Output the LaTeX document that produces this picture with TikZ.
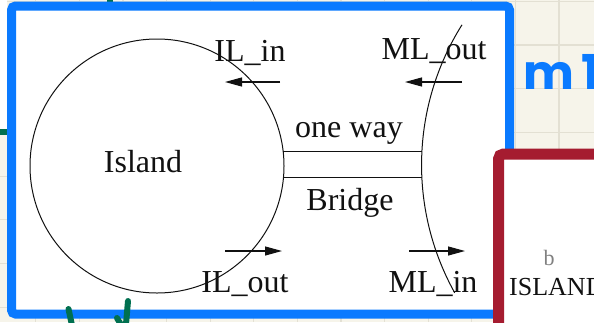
\documentclass[tikz,border=0pt]{standalone}
\usepackage{fontspec}
\setmainfont{Liberation Serif}
\newfontfamily\mfont[LetterSpace=15]{Poppins}
\usetikzlibrary{arrows.meta}
\definecolor{cream}{HTML}{F6F4EA}
\definecolor{gridc}{HTML}{E3E0D3}
\definecolor{blueb}{HTML}{0A7AFF}
\definecolor{redb}{HTML}{A51C30}
\definecolor{greenm}{HTML}{007050}
\definecolor{ink}{HTML}{111111}
\begin{document}
\begin{tikzpicture}[x=1pt,y=-1pt,
  lbl/.style={font=\fontsize{32}{32}\selectfont, text=ink, inner sep=0pt, anchor=base},
  smalllbl/.style={font=\fontsize{22}{22}\selectfont, inner sep=0pt, anchor=base},
  outline/.style={draw=ink, line width=1pt},
  flow/.style={draw=ink, line width=1.1pt, -{Triangle[length=17pt,width=9pt]}},
  greenstroke/.style={draw=greenm, line width=6pt, line cap=round},
  gridline/.style={draw=gridc, line width=1.2pt}]
\clip (0,0) rectangle (594,322);
\useasboundingbox (0,0) rectangle (594,322);
% background
\fill[cream] (0,0) rectangle (594,322);
\foreach \i in {-2,...,11} \draw[gridline] ({123+43.6*\i},0) -- ++(0,322);
\foreach \j in {0,...,7} \draw[gridline] (0,{1.3+43.7*\j}) -- ++(594,0);
\fill[white] (0,0) rectangle (7,130);
\draw[greenstroke, line cap=butt] (0,132) -- (8,132);
\draw[greenstroke, line cap=butt] (109.5,-2) -- (109.5,4);
% blue frame
\draw[blueb, line width=9pt, fill=white, rounded corners=4pt] (11.5,6) rectangle (509.5,314);
% island
\node[circle, outline, minimum size=254pt, inner sep=0pt, outer sep=0pt] (island) at (157,166) {};
\node[lbl] (islandtxt) at (143,172.5) {Island};
% mainland shore
\coordinate (shoretop) at (462,24.8);
\draw[outline] (shoretop) arc[start angle=212.2, end angle=150.9, radius=263];
\coordinate (shoreA) at (422,151);
\coordinate (shoreB) at (422,177);
\coordinate (islandA) at (283.1,151);
\coordinate (islandB) at (283.5,177);
% bridge
\draw[outline] (islandA) -- (shoreA);
\draw[outline] (islandB) -- (shoreB);
\node[lbl] (oneway) at (349,137) {one way};
\node[lbl] (bridge) at (350,210) {Bridge};
% labels
\node[lbl] (ilin) at (250,61) {IL\_in};
\node[lbl] (mlout) at (434,59) {ML\_out};
\node[lbl] (ilout) at (245,292) {IL\_out};
\node[lbl] (mlin) at (433,292) {ML\_in};
% arrows
\coordinate (a1s) at (280,82); \coordinate (a1e) at (225,82);
\coordinate (a2s) at (462,82); \coordinate (a2e) at (405,82);
\coordinate (a3s) at (225,251); \coordinate (a3e) at (282,251);
\coordinate (a4s) at (409,251); \coordinate (a4e) at (465,251);
\draw[flow] (a1s) -- (a1e);
\draw[flow] (a2s) -- (a2e);
\draw[flow] (a3s) -- (a3e);
\draw[flow] (a4s) -- (a4e);
% red box
\draw[redb, line width=11pt, fill=white, rounded corners=5pt] (498.5,154) rectangle (660,380);
\node[smalllbl, text=gray] (btxt) at (549,265) {b};
\node[smalllbl, font=\fontsize{26}{26}\selectfont, text=ink, anchor=base west] (islandcap) at (509,295) {ISLAND};
% m1
\node[font=\mfont\bfseries\fontsize{48}{48}\selectfont, text=blueb, anchor=base west, inner sep=0pt] (mone) at (523,89) {m1};
% green marks
\draw[greenstroke] (68.5,309) -- (73,330);
\draw[greenstroke] (128,301) -- (125.5,330);
\draw[greenstroke] (117,318) -- (124,330);
\end{tikzpicture}
\end{document}
